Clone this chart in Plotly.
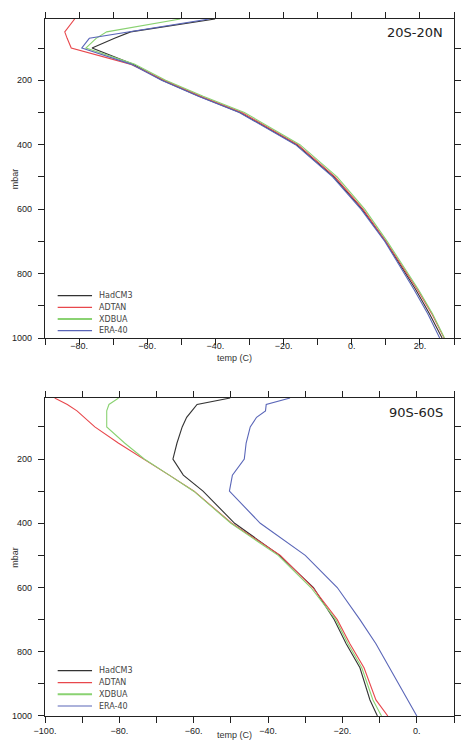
import plotly.graph_objects as go

# ---------------- data ----------------
series_names = ["HadCM3", "ADTAN", "XDBUA", "ERA-40"]
series_colors = ["#333333", "#e8474c", "#8ad272", "#5a66b8"]

# Panel 1: 20S-20N
levels_top = [10, 50, 70, 100, 150, 200, 250, 300, 400, 500, 600, 700, 850, 925, 1000]
hadcm3_top = [-40.1, -64.9, -69.6, -76.2, -64.3, -55.6, -44.8, -32.8, -16.2, -5.3, 3.0, 9.9, 18.8, 22.8, 26.5]
adtan_top = [-81.3, -84.2, -83.5, -82.3, -65.0, -55.0, -44.3, -32.2, -15.8, -4.9, 3.3, 10.0, 19.3, 23.5, 27.1]
xdbua_top = [-50.3, -71.9, -75.0, -78.0, -63.8, -54.6, -43.6, -31.5, -15.2, -4.3, 3.8, 10.4, 19.6, 23.7, 27.2]
era40_top = [-41.8, -66.0, -77.0, -79.2, -64.8, -55.8, -45.0, -33.0, -16.5, -5.6, 2.7, 9.7, 18.3, 22.3, 25.8]

# Panel 2: 90S-60S
levels_bot_model = [10, 30, 50, 70, 100, 150, 200, 250, 300, 400, 500, 600, 700, 775, 850, 950, 1000]
hadcm3_bot = [-50.2, -59.1, -60.5, -61.9, -63.1, -64.5, -65.6, -62.8, -57.5, -49.0, -36.9, -27.8, -22.2, -19.0, -15.3, -12.6, -10.6]
adtan_bot = [-97.4, -94.0, -91.4, -89.5, -86.6, -80.3, -73.3, -66.6, -59.9, -49.8, -36.7, -28.0, -21.4, -18.0, -14.2, -11.0, -7.8]
xdbua_bot = [-80.2, -82.8, -83.4, -83.4, -83.4, -78.6, -73.3, -66.6, -60.0, -50.0, -37.3, -28.5, -21.8, -18.5, -14.8, -11.8, -9.5]
levels_bot_era = [10, 30, 50, 70, 100, 150, 200, 250, 300, 400, 500, 600, 700, 775, 1000]
era40_bot = [-34.1, -40.5, -40.7, -43.1, -44.8, -45.9, -46.4, -49.6, -50.4, -42.1, -30.0, -21.4, -15.3, -11.0, 0.0]

region_labels = ["20S-20N", "90S-60S"]

x_ticks_top = list(range(-90, 31, 10))
x_labels_top = {-80: "\u221280.", -60: "\u221260.", -40: "\u221240.", -20: "\u221220.", 0: "0.", 20: "20."}
x_ticks_bot = list(range(-100, 11, 10))
x_labels_bot = {-100: "\u2212100.", -80: "\u221280.", -60: "\u221260.", -40: "\u221240.", -20: "\u221220.", 0: "0."}
y_ticks = list(range(100, 1001, 100))
y_labels = {200: "200", 400: "400", 600: "600", 800: "800", 1000: "1000"}

# ---------------- figure ----------------
fig = go.Figure()

top_data = [hadcm3_top, adtan_top, xdbua_top, era40_top]
for name, color, vals in zip(series_names, series_colors, top_data):
    fig.add_trace(go.Scatter(x=vals, y=levels_top, mode="lines", name=name,
                             line=dict(color=color, width=1.1), xaxis="x", yaxis="y",
                             showlegend=False))

bot_data = [(levels_bot_model, hadcm3_bot), (levels_bot_model, adtan_bot),
            (levels_bot_model, xdbua_bot), (levels_bot_era, era40_bot)]
for name, color, (lev, vals) in zip(series_names, series_colors, bot_data):
    fig.add_trace(go.Scatter(x=vals, y=lev, mode="lines", name=name,
                             line=dict(color=color, width=1.1), xaxis="x2", yaxis="y2",
                             showlegend=False))

tickfont = dict(family="Liberation Sans, Arial, sans-serif", size=9, color="#222222")
axis_common = dict(showline=True, linecolor="#222222", linewidth=1.2, mirror="ticks",
                   ticks="outside", ticklen=6, tickwidth=1, tickcolor="#222222",
                   showgrid=False, zeroline=False, tickfont=tickfont)

fig.update_layout(
    width=473, height=751,
    margin=dict(l=36, r=12, t=19, b=35),
    paper_bgcolor="white", plot_bgcolor="white",
    xaxis=dict(domain=[0, 1], anchor="y", range=[-90, 30],
               tickmode="array", tickvals=x_ticks_top,
               ticktext=[x_labels_top.get(v, "") for v in x_ticks_top],
               ticklabelstandoff=-7, **axis_common),
    yaxis=dict(domain=[0.5423, 1], anchor="x", range=[1000, 10],
               tickmode="array", tickvals=y_ticks,
               ticktext=[y_labels.get(v, "") for v in y_ticks],
               ticklabelstandoff=4, **axis_common),
    xaxis2=dict(domain=[0, 1], anchor="y2", range=[-100, 10],
                tickmode="array", tickvals=x_ticks_bot,
                ticktext=[x_labels_bot.get(v, "") for v in x_ticks_bot],
                ticklabelstandoff=0, **axis_common),
    yaxis2=dict(domain=[0, 0.4562], anchor="x2", range=[1000, 10],
                tickmode="array", tickvals=y_ticks,
                ticktext=[y_labels.get(v, "") for v in y_ticks],
                ticklabelstandoff=4, **axis_common),
)

label_font = dict(family="DejaVu Sans, sans-serif", size=13, color="#222222")
small_font = dict(family="Liberation Sans, Arial, sans-serif", size=9, color="#333333")
legend_font = dict(family="DejaVu Sans, sans-serif", size=8, color="#444444")

annotations = []
shapes = []
panel_refs = [("x", "y", 0.959, [0.1326, 0.0963, 0.0596, 0.0229], 358),
              ("x2", "y2", 0.955, [0.1425, 0.1047, 0.0682, 0.0314], 735)]
for (xr, yr, ylab, legy, title_y), region in zip(panel_refs, region_labels):
    annotations.append(dict(text=region, xref=f"{xr} domain", yref=f"{yr} domain",
                            x=0.978, y=ylab, xanchor="right", yanchor="middle",
                            showarrow=False, font=label_font))
    for name, color, ly in zip(series_names, series_colors, legy):
        shapes.append(dict(type="line", xref=f"{xr} domain", yref=f"{yr} domain",
                           x0=0.031, x1=0.115, y0=ly, y1=ly,
                           line=dict(color=color, width=2 if name == "XDBUA" else 1.2)))
        annotations.append(dict(text=name, xref=f"{xr} domain", yref=f"{yr} domain",
                                x=0.126, y=ly, xanchor="left", yanchor="middle",
                                showarrow=False, font=legend_font))
    # x-axis title
    annotations.append(dict(text="temp (C)", xref="paper", yref="paper",
                            x=(232.5 - 36) / 425, y=(716 - title_y) / 697,
                            xanchor="center", yanchor="middle", showarrow=False,
                            font=small_font))

# y-axis titles
for yc in [178.5, 557]:
    annotations.append(dict(text="mbar", xref="paper", yref="paper",
                            x=(4.5 - 36) / 425, y=(716 - yc) / 697,
                            xanchor="center", yanchor="middle", textangle=-90,
                            showarrow=False, font=small_font))

fig.update_layout(annotations=annotations, shapes=shapes)
fig.write_html("out.html")
